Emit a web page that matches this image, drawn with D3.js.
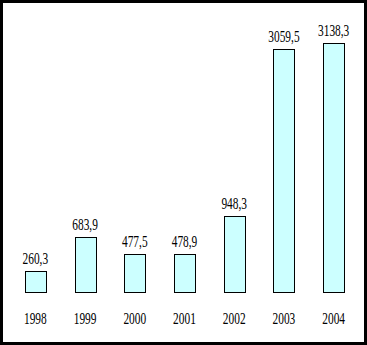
<!DOCTYPE html>
<html>
<head>
<meta charset="utf-8">
<script src="https://cdn.jsdelivr.net/npm/d3@7"></script>
<style>
  html, body { margin: 0; padding: 0; background: #fff; }
  svg { display: block; }
  text { font-family: "Liberation Serif", "Times New Roman", serif; fill: #000; }
</style>
</head>
<body>
<svg id="chart" width="367" height="345"></svg>
<script>
// Yearly totals
const years = ["1998", "1999", "2000", "2001", "2002", "2003", "2004"];
const values = [260.3, 683.9, 477.5, 478.9, 948.3, 3059.5, 3138.3];

const W = 367, H = 345;
const baseline = 291.5;

const svg = d3.select("#chart");

// white panel with thick black frame
svg.append("rect")
  .attr("x", 1.5).attr("y", 1.5)
  .attr("width", W - 3).attr("height", H - 3)
  .attr("fill", "#fff")
  .attr("stroke", "#000")
  .attr("stroke-width", 3);

const x = d3.scaleBand()
  .domain(years)
  .range([10, 359])
  .paddingInner(0.58)
  .paddingOuter(0.3);

const y = d3.scaleLinear()
  .domain([0, 3500])
  .range([baseline, baseline - 277.2]);

// decimal comma
const fmt = d3.formatLocale({ decimal: ",", thousands: " ", grouping: [3], currency: ["", ""] }).format(".1f");

const data = years.map((yr, i) => ({ year: yr, value: values[i] }));

const g = svg.append("g");

g.selectAll("rect.bar")
  .data(data)
  .join("rect")
  .attr("class", "bar")
  .attr("x", d => Math.round(x(d.year)) + 0.5)
  .attr("y", d => Math.round(y(d.value)) + 0.5)
  .attr("width", Math.round(x.bandwidth()))
  .attr("height", d => Math.round(baseline) - Math.round(y(d.value)))
  .attr("fill", "#ccffff")
  .attr("stroke", "#000")
  .attr("stroke-width", 1);

const sx = 0.67;

// value labels above bars
g.selectAll("text.val")
  .data(data)
  .join("text")
  .attr("class", "val")
  .attr("text-anchor", "middle")
  .attr("font-size", 17)
  .attr("transform", d => `translate(${x(d.year) + x.bandwidth() / 2},${y(d.value) - 7}) scale(${sx},1)`)
  .text(d => fmt(d.value));

// year labels
g.selectAll("text.yr")
  .data(data)
  .join("text")
  .attr("class", "yr")
  .attr("text-anchor", "middle")
  .attr("font-size", 17)
  .attr("transform", d => `translate(${x(d.year) + x.bandwidth() / 2},324) scale(${sx},1)`)
  .text(d => d.year);
</script>
</body>
</html>
